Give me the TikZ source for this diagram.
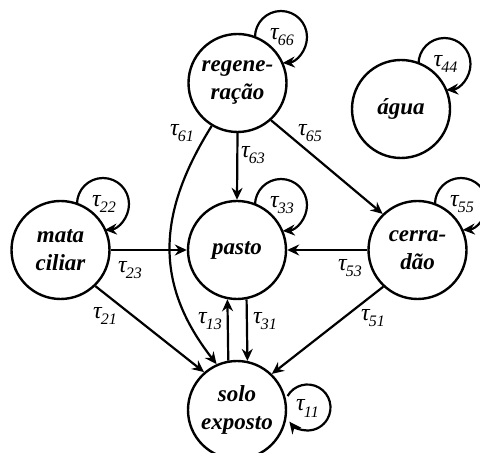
\documentclass[tikz,border=0pt]{standalone}
\usepackage{fontspec}
\setmainfont{Liberation Serif}
\usetikzlibrary{arrows.meta,calc}
\newcommand\taulab[1]{\itshape τ\kern-0.8pt\raisebox{-6.5pt}{\fontsize{16}{16}\selectfont #1}}
\begin{document}
\begin{tikzpicture}[x=1pt,y=1pt,
  state/.style={circle,draw,line width=2.4pt,minimum size=98pt,inner sep=0pt,align=center,
    font=\fontsize{23}{28}\selectfont\bfseries\itshape},
  arr/.style={line width=2.2pt,-{Stealth[length=12pt,width=11pt,inset=4pt]}},
  lab/.style={font=\fontsize{24}{26}\selectfont,inner sep=0pt}]
\useasboundingbox (0,0) rectangle (480,453);
% states
\node[state] (reg) at (237.5,370) {regene-\\ração};
\node[state] (agua) at (401,344) {água};
\node[state] (pasto) at (237,203) {pasto};
\node[state] (mata) at (60.5,203) {mata\\ciliar};
\node[state] (cerr) at (417.5,203) {cerra-\\dão};
\node[state] (solo) at (237,43) {solo\\exposto};
% self loops
\coordinate (c66) at ($(reg)+(43.5,46)$);
\coordinate (c44) at ($(agua)+(43.5,45)$);
\coordinate (c33) at ($(pasto)+(44,45)$);
\coordinate (c22) at ($(mata)+(42.5,46)$);
\coordinate (c55) at ($(cerr)+(43.5,46)$);
\coordinate (c11) at ($(solo)+(70.5,2.5)$);
\foreach \c in {c66,c44,c33,c22,c55}{
  \draw[arr] ($(\c)+(180:26)$) arc[start angle=180,end angle=-86,radius=26];
}
\draw[arr] ($(c11)+(150:23)$) arc[start angle=150,end angle=-142,radius=23];
\node[lab] (l66) at ($(c66)+(1,0)$) {\taulab{66}};
\node[lab] (l44) at ($(c44)+(1,0)$) {\taulab{44}};
\node[lab] (l33) at ($(c33)+(1,0)$) {\taulab{33}};
\node[lab] (l22) at ($(c22)+(1,0)$) {\taulab{22}};
\node[lab] (l55) at ($(c55)+(1,0)$) {\taulab{55}};
\node[lab] (l11) at ($(c11)+(0,-1)$) {\taulab{11}};
% transitions
\draw[arr] (reg.south) -- (pasto.north);
\draw[arr] (reg.-48.5) -- (cerr.134);
\draw[arr] (reg.239.5) to[out=238,in=128,looseness=1.1] (solo.114);
\draw[arr] (mata.east) -- (pasto.west);
\draw[arr] (mata.-46) -- (solo.131);
\draw[arr] (cerr.west) -- (pasto.east);
\draw[arr] (cerr.227) -- (solo.46);
\draw[arr] (solo.100.4) -- (pasto.259.6);
\draw[arr] (pasto.281.5) -- (solo.78.5);
% labels
\node[lab] (l63) at (253,298) {\taulab{63}};
\node[lab] (l65) at (310,320) {\taulab{65}};
\node[lab] (l61) at (182,320) {\taulab{61}};
\node[lab] (l23) at (130,183) {\taulab{23}};
\node[lab] (l21) at (105,137) {\taulab{21}};
\node[lab] (l53) at (350,185) {\taulab{53}};
\node[lab] (l51) at (373,135) {\taulab{51}};
\node[lab] (l13) at (210,132) {\taulab{13}};
\node[lab] (l31) at (265,132) {\taulab{31}};
\end{tikzpicture}
\end{document}
